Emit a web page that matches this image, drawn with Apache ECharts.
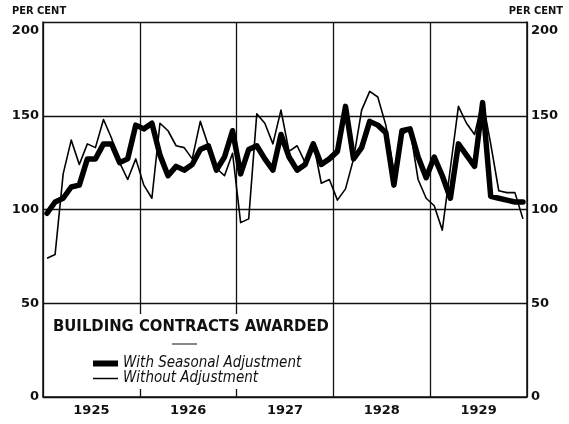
<!DOCTYPE html>
<html>
<head>
<meta charset="utf-8">
<script src="https://cdn.jsdelivr.net/npm/echarts@6/dist/echarts.min.js"></script>
<style>
  html, body { margin: 0; padding: 0; background: #fff; }
  #chart { width: 569px; height: 424px; }
</style>
</head>
<body>
<div id="chart"></div>
<script>
// monthly, Jan 1925 - Dec 1929
const years = ['1925', '1926', '1927', '1928', '1929'];
const months = [];
years.forEach(y => { for (let m = 1; m <= 12; m++) months.push(y + '-' + m); });

const withSeasonal = [
  98, 104, 106, 112, 113, 127, 127, 135, 135, 125, 127, 145,
  143, 146, 129, 118, 123, 121, 124, 132, 134, 121, 128, 142,
  119, 132, 134, 127, 121, 140, 128, 121, 124, 135, 124, 127,
  131, 155, 127, 133, 147, 145, 141, 113, 142, 143, 128, 117,
  128, 118, 106, 135, 129, 123, 157, 107, 106, 105, 104, 104
];
const withoutAdj = [
  74, 76, 119, 137, 124, 135, 133, 148, 138, 125, 116, 127,
  113, 106, 146, 142, 134, 133, 127, 147, 134, 122, 118, 130,
  93, 95, 151, 146, 135, 153, 131, 134, 125, 136, 114, 116,
  105, 111, 127, 153, 163, 160, 145, 120, 140, 143, 116, 106,
  102, 89, 122, 155, 146, 140, 158, 135, 110, 109, 109, 95
];
const yTicks = [0, 50, 100, 150, 200];

const font = "'DejaVu Sans Condensed', 'DejaVu Sans', sans-serif";
const ink = '#111';

let chart = echarts.init(document.getElementById('chart'));

function yLabel(v) {
  return v === yTicks[yTicks.length - 1] ? '{top|' + v + '}' : String(v);
}
let yLabelStyle = {
  color: ink,
  fontFamily: "'DejaVu Sans', sans-serif",
  fontWeight: 'bold',
  fontSize: 13,
  margin: 4,
  formatter: yLabel,
  rich: {
    top: {
      fontFamily: "'DejaVu Sans', sans-serif",
      fontWeight: 'bold',
      fontSize: 13,
      color: ink,
      padding: [18, 0, 0, 0]
    }
  }
};

let option = {
  backgroundColor: '#fff',
  animation: false,
  grid: { left: 43, right: 42, top: 22, bottom: 27 },
  title: {
    text: 'BUILDING CONTRACTS AWARDED',
    left: 48,
    top: 313,
    z: 6,
    textStyle: {
      color: ink,
      fontFamily: font,
      fontWeight: 'bold',
      fontSize: 16.5
    }
  },
  legend: {
    orient: 'vertical',
    left: 88,
    top: 351,
    z: 6,
    itemWidth: 25,
    itemHeight: 10,
    itemGap: 0,
    textStyle: {
      color: ink,
      fontFamily: font,
      fontStyle: 'italic',
      fontSize: 15
    },
    data: [
      { name: 'With Seasonal Adjustment', icon: 'path://M0,0H25V6H0Z' },
      { name: 'Without Adjustment', icon: 'path://M0,0H25V1.5H0Z' }
    ]
  },
  xAxis: [
    {
      type: 'category',
      data: months,
      boundaryGap: true,
      axisLine: { show: false },
      axisTick: { show: false },
      axisLabel: { show: false },
      splitLine: { show: false }
    },
    {
      type: 'category',
      data: years,
      position: 'bottom',
      boundaryGap: true,
      axisLine: { show: true, lineStyle: { color: ink, width: 1.5 } },
      axisTick: { show: false },
      axisLabel: {
        color: ink,
        fontFamily: "'DejaVu Sans', sans-serif",
        fontWeight: 'bold',
        fontSize: 13,
        margin: 7
      },
      splitLine: { show: true, lineStyle: { color: ink, width: 1.3 } }
    }
  ],
  yAxis: [
    {
      type: 'value',
      min: 0,
      max: 200,
      interval: 50,
      axisLine: { show: true, lineStyle: { color: ink, width: 1.5 } },
      axisTick: { show: false },
      axisLabel: yLabelStyle,
      splitLine: { show: true, lineStyle: { color: ink, width: 1.3 } }
    },
    {
      type: 'value',
      min: 0,
      max: 200,
      interval: 50,
      position: 'right',
      axisLine: { show: true, lineStyle: { color: ink, width: 1.5 } },
      axisTick: { show: false },
      axisLabel: yLabelStyle,
      splitLine: { show: false }
    }
  ],
  graphic: [
    // legend panel blanks the gridlines behind it
    { type: 'rect', z: 3, shape: { x: 45, y: 314, width: 286, height: 75 }, style: { fill: '#fff' } },
    { type: 'line', z: 6, shape: { x1: 172, y1: 344, x2: 197, y2: 344 }, style: { stroke: ink, lineWidth: 1 } },
    { type: 'text', z: 6, left: 12, top: 6, style: { text: 'PER CENT', fill: ink, font: "bold 11px 'DejaVu Sans Condensed', 'DejaVu Sans', sans-serif" } },
    { type: 'text', z: 6, right: 6, top: 6, style: { text: 'PER CENT', fill: ink, font: "bold 11px 'DejaVu Sans Condensed', 'DejaVu Sans', sans-serif" } }
  ],
  series: [
    {
      name: 'With Seasonal Adjustment',
      type: 'line',
      data: withSeasonal,
      symbol: 'none',
      z: 4,
      lineStyle: { color: '#000', width: 5.5, join: 'round', cap: 'round' },
      itemStyle: { color: '#000' }
    },
    {
      name: 'Without Adjustment',
      type: 'line',
      data: withoutAdj,
      symbol: 'none',
      z: 4,
      lineStyle: { color: '#000', width: 1.6, join: 'round' },
      itemStyle: { color: '#000' }
    }
  ]
};
chart.setOption(option);
</script>
</body>
</html>
